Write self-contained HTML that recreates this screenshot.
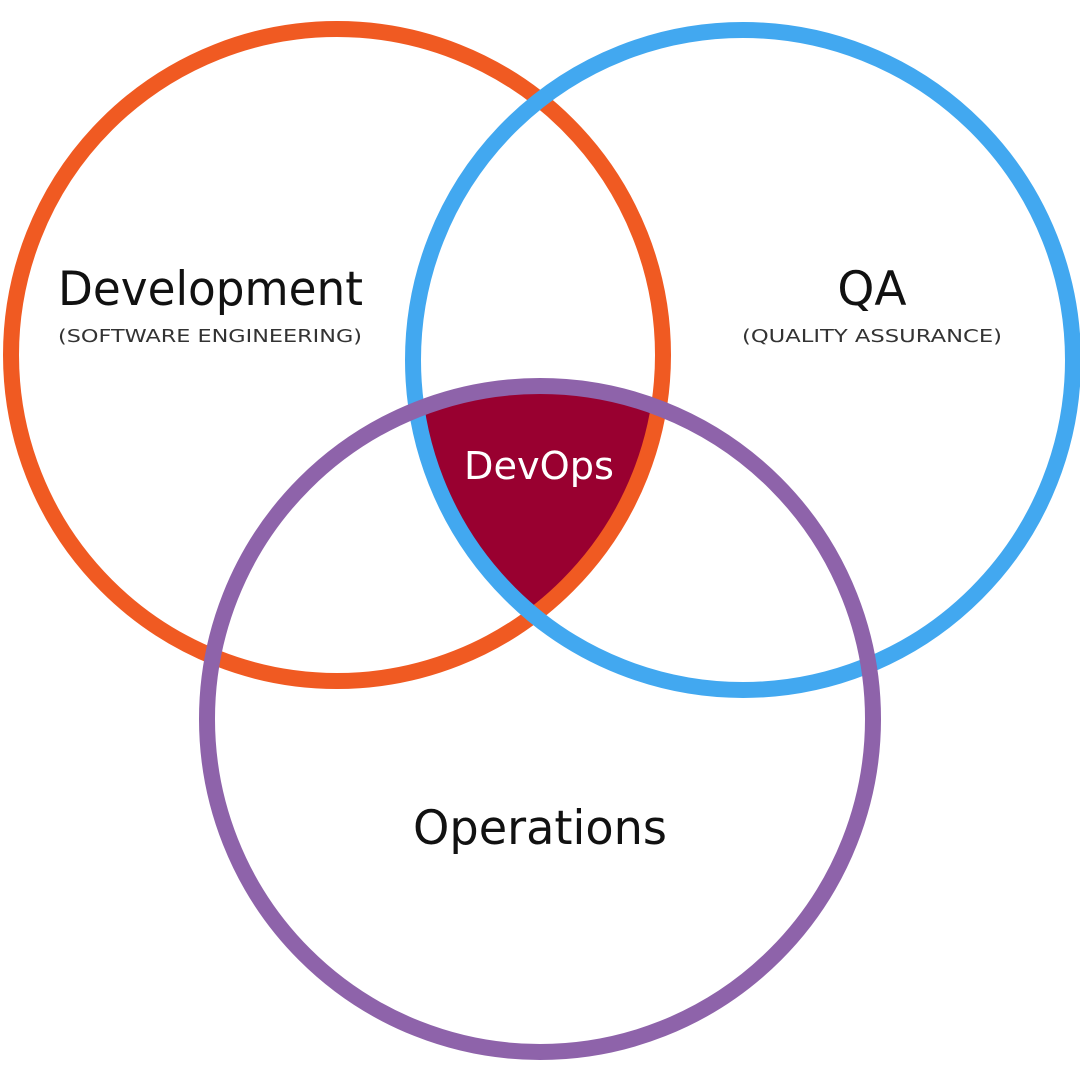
<!DOCTYPE html>
<html><head><style>html,body{margin:0;padding:0;background:#fff}svg{display:block}</style></head>
<body>
<svg width="1080" height="1080" viewBox="0 0 1080 1080" xmlns="http://www.w3.org/2000/svg" font-family="'DejaVu Sans','Liberation Sans',sans-serif">
<defs>
<clipPath id="co"><circle cx="337" cy="355" r="326"/></clipPath>
<clipPath id="cb"><circle cx="743" cy="360" r="330"/></clipPath>
</defs>
<g clip-path="url(#co)"><circle cx="540" cy="719" r="333" fill="#990030" clip-path="url(#cb)"/></g>
<circle cx="337" cy="355" r="326" fill="none" stroke="#F05A22" stroke-width="16"/>
<circle cx="743" cy="360" r="330" fill="none" stroke="#42A8F0" stroke-width="16"/>
<circle cx="540" cy="719" r="333" fill="none" stroke="#8E63AA" stroke-width="16"/>
<text x="58" y="305" font-size="47" fill="#111" textLength="305" lengthAdjust="spacingAndGlyphs">Development</text>
<text x="58" y="342" font-size="18" fill="#333" textLength="304" lengthAdjust="spacingAndGlyphs">(SOFTWARE ENGINEERING)</text>
<text x="872" y="305" font-size="47" fill="#111" text-anchor="middle">QA</text>
<text x="742" y="342" font-size="18" fill="#333" textLength="260" lengthAdjust="spacingAndGlyphs">(QUALITY ASSURANCE)</text>
<text x="464" y="479" font-size="38" fill="#fff" textLength="150" lengthAdjust="spacingAndGlyphs">DevOps</text>
<text x="413" y="844" font-size="47" fill="#111" textLength="254" lengthAdjust="spacingAndGlyphs">Operations</text>
</svg>
</body></html>
